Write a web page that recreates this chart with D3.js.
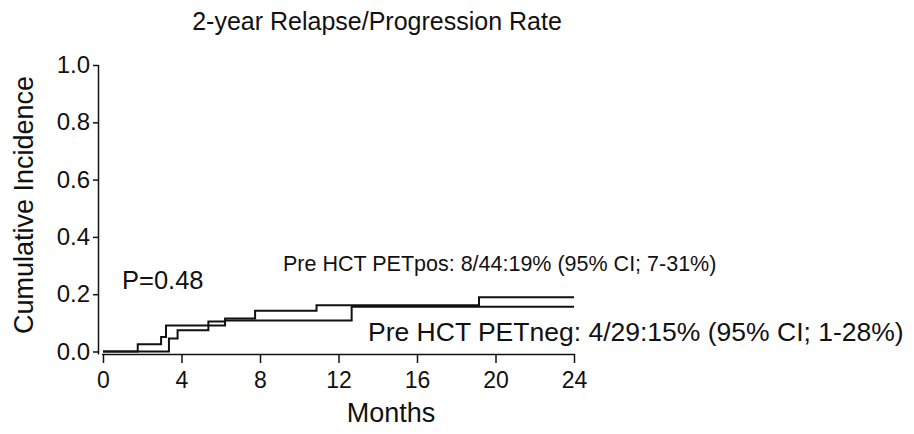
<!DOCTYPE html>
<html>
<head>
<meta charset="utf-8">
<script src="https://cdn.jsdelivr.net/npm/d3@7"></script>
<style>
  body { margin: 0; background: #fff; }
  text { font-family: "Liberation Sans", Arial, sans-serif; fill: #111; }
</style>
</head>
<body>
<div class="canvas"></div>
<script>
// data
const posMonths = [0, 1.77, 2.96, 3.21, 5.37, 6.22, 7.75, 10.88, 19.16, 24]
const posValues = [0, 0.025, 0.051, 0.091, 0.105, 0.115, 0.142, 0.161, 0.189, 0.189]
const negMonths = [0, 3.36, 3.80, 5.37, 6.22, 12.67, 24]
const negValues = [0, 0.045, 0.074, 0.091, 0.108, 0.156, 0.156]
const xTicks = [0, 4, 8, 12, 16, 20, 24]
const yTicks = [0, 0.2, 0.4, 0.6, 0.8, 1.0]

const title = "2-year Relapse/Progression Rate"
const posLabel = "Pre HCT PETpos: 8/44:19% (95% CI; 7-31%)"
const negLabel = "Pre HCT PETneg: 4/29:15% (95% CI; 1-28%)"
const pLabel = "P=0.48"

const width = 914
const height = 434

const svg = d3.select(".canvas")
    .append("svg")
    .attr("width", width)
    .attr("height", height)

const margin = { top: 65, left: 103 }
const graphWidth = 471
const graphHeight = 286.5

const graph = svg.append("g")
    .attr("transform", `translate(${margin.left}, ${margin.top})`)

const x = d3.scaleLinear().domain([0, 24]).range([0, graphWidth])
const y = d3.scaleLinear().domain([0, 1]).range([graphHeight, 0])

// x axis sits a little below the zero line
const xAxisGroup = graph.append("g")
    .attr("transform", `translate(0, ${graphHeight + 2.5})`)
const yAxisGroup = graph.append("g")
    .attr("transform", `translate(-4.5, 0)`)

const xAxis = d3.axisBottom(x)
    .tickValues(xTicks)
    .tickSize(9)
    .tickSizeOuter(0)
    .tickPadding(9)
    .tickFormat(d3.format("d"))
const yAxis = d3.axisLeft(y)
    .tickValues(yTicks)
    .tickSize(5.5)
    .tickSizeOuter(0)
    .tickPadding(3)
    .tickFormat(d3.format(".1f"))

xAxisGroup.call(xAxis)
yAxisGroup.call(yAxis)

xAxisGroup.selectAll("text").attr("font-size", 23).attr("font-family", null)
yAxisGroup.selectAll("text").attr("font-size", 24).attr("font-family", null)
svg.selectAll(".domain, .tick line").attr("stroke", "#111").attr("stroke-width", 1.5)
xAxisGroup.select(".domain").attr("d", `M-1,0.5H${graphWidth + 1}`)
// y axis line runs down to the x axis
yAxisGroup.select(".domain").attr("d", `M0,0V${graphHeight + 3}`)

// step curves
const line = d3.line()
    .x(d => x(d[0]))
    .y(d => y(d[1]))
    .curve(d3.curveStepAfter)

graph.append("path")
    .datum(d3.zip(negMonths, negValues))
    .attr("d", line)
    .attr("fill", "none")
    .attr("stroke", "#111")
    .attr("stroke-width", 2)

graph.append("path")
    .datum(d3.zip(posMonths, posValues))
    .attr("d", line)
    .attr("fill", "none")
    .attr("stroke", "#111")
    .attr("stroke-width", 2)

// texts
svg.append("text")
    .attr("x", 377)
    .attr("y", 30)
    .attr("text-anchor", "middle")
    .attr("font-size", 25)
    .text(title)

svg.append("text")
    .attr("transform", "translate(33, 205) rotate(-90)")
    .attr("text-anchor", "middle")
    .attr("font-size", 27)
    .text("Cumulative Incidence")

svg.append("text")
    .attr("x", 391)
    .attr("y", 421.5)
    .attr("text-anchor", "middle")
    .attr("font-size", 27)
    .text("Months")

svg.append("text")
    .attr("x", 122)
    .attr("y", 288.5)
    .attr("font-size", 25.5)
    .text(pLabel)

svg.append("text")
    .attr("x", 283)
    .attr("y", 271)
    .attr("font-size", 21.5)
    .text(posLabel)

svg.append("text")
    .attr("x", 368)
    .attr("y", 341)
    .attr("font-size", 26.5)
    .text(negLabel)
</script>
</body>
</html>
